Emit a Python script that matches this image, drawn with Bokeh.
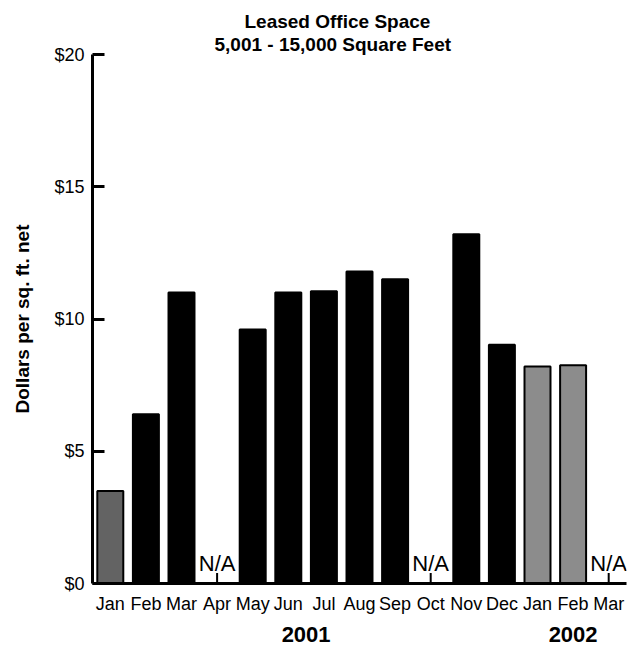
from bokeh.plotting import figure
from bokeh.models import FactorRange, Range1d, FixedTicker, PrintfTickFormatter, ColumnDataSource, Title
from bokeh.embed import file_html
from bokeh.resources import INLINE
from bokeh.core.properties import value

# ---- data ----
years = ["2001"] * 12 + ["2002"] * 3
months = ["Jan", "Feb", "Mar", "Apr", "May", "Jun", "Jul", "Aug", "Sep", "Oct", "Nov", "Dec",
          "Jan", "Feb", "Mar"]
rates = [3.5, 6.4, 11.0, None, 9.6, 11.0, 11.05, 11.8, 11.5, None, 13.2, 9.03, 8.2, 8.25, None]
y_ticks = [0, 5, 10, 15, 20]
title_lines = ["Leased Office Space", "5,001 - 15,000 Square Feet"]
y_label = "Dollars per sq. ft. net"
na_text = "N/A"

# ---- styles ----
bar_colors = ["#636363"] + ["#000000"] * 11 + ["#8c8c8c"] * 3
SANS = "Liberation Sans"

W, H = 639, 646
B_LEFT, B_RIGHT, B_TOP, B_BOTTOM = 92, 13, 54, 63
NA_TICK = 0.4      # length of the little tick under N/A, in data units
NA_Y = 0.75        # baseline of the N/A text, in data units

factors = list(zip(years, months))
bx, btop, bcol = [], [], []
nx = []
for f, r, c in zip(factors, rates, bar_colors):
    if r is None:
        nx.append(f)
    else:
        bx.append(f)
        btop.append(r)
        bcol.append(c)

src = ColumnDataSource(dict(x=bx, top=btop, color=bcol))

x_range = FactorRange(factors=factors, range_padding=0, group_padding=0, factor_padding=0)
p = figure(x_range=x_range, y_range=Range1d(0, 20), width=W, height=H,
           output_backend="svg", toolbar_location=None, title=None,
           min_border_left=B_LEFT, min_border_right=B_RIGHT,
           min_border_top=B_TOP, min_border_bottom=B_BOTTOM)
p.outline_line_color = None
p.xgrid.visible = False
p.ygrid.visible = False

p.vbar(x="x", top="top", width=0.73, source=src, fill_color="color",
       line_color="black", line_width=2)

p.segment(x0=nx, y0=[0] * len(nx), x1=nx, y1=[NA_TICK] * len(nx),
          line_color="black", line_width=2)
p.text(x=nx, y=[NA_Y] * len(nx), text=[na_text] * len(nx),
       text_font=value(SANS), text_font_size="22px",
       text_align="center", text_baseline="alphabetic", text_color="black")

xa = p.xaxis[0]
xa.axis_line_width = 3
xa.axis_line_color = "black"
xa.major_tick_line_color = None
xa.major_tick_in = 0
xa.major_tick_out = 0
xa.minor_tick_line_color = None
xa.separator_line_alpha = 0
xa.major_label_text_font = SANS
xa.major_label_text_font_size = "18px"
xa.major_label_text_color = "black"
xa.major_label_standoff = 10
xa.group_text_font = SANS
xa.group_text_font_size = "22px"
xa.group_text_font_style = "bold"
xa.group_text_color = "black"

ya = p.yaxis[0]
ya.ticker = FixedTicker(ticks=y_ticks)
ya.formatter = PrintfTickFormatter(format="$%d")
ya.axis_line_width = 3
ya.axis_line_color = "black"
ya.major_tick_in = 12
ya.major_tick_out = 0
ya.major_tick_line_width = 3
ya.minor_tick_line_color = None
ya.major_label_text_font = SANS
ya.major_label_text_font_size = "18px"
ya.major_label_text_color = "black"
ya.major_label_standoff = 8
ya.axis_label = y_label
ya.axis_label_text_font = SANS
ya.axis_label_text_font_size = "19px"
ya.axis_label_text_font_style = "bold"
ya.axis_label_text_color = "black"
ya.axis_label_standoff = 18

# inner line first, outer line second
for line, off in zip(reversed(title_lines), [122, 152]):
    p.add_layout(Title(text=line, align="left", offset=off, standoff=0,
                       text_font=SANS, text_font_size="19px", text_font_style="bold",
                       text_color="black"), "above")

open("out.html", "w").write(file_html(p, INLINE))
